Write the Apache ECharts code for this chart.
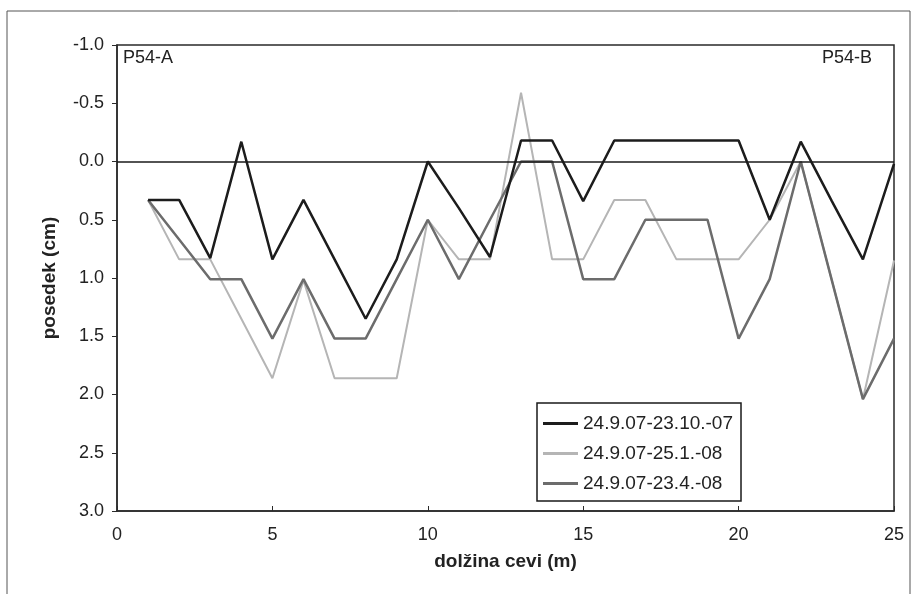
<!DOCTYPE html>
<html lang="sl">
<head>
    <meta charset="utf-8">
    <title>posedek</title>
    <script src="https://cdn.jsdelivr.net/npm/echarts@6/dist/echarts.min.js"></script>
    <style type="text/css">
        body {
            margin: 0;
            background: #ffffff;
        }

        #main {
            width: 916px;
            height: 594px;
        }
    </style>
</head>
<body>
<div id="main"></div>
<script type="text/javascript">
    // dolžina cevi (m)
    let xValues = [1, 2, 3, 4, 5, 6, 7, 8, 9, 10, 11, 12, 13, 14, 15, 16, 17, 18, 19, 20, 21, 22, 23, 24, 25];

    // posedek (cm), po meritvah
    let oct07 = [0.33, 0.33, 0.83, -0.17, 0.84, 0.33, 0.84, 1.35, 0.84, 0.0, 0.4, 0.82, -0.18, -0.18, 0.34, -0.18, -0.18, -0.18, -0.18, -0.18, 0.5, -0.17, 0.34, 0.84, 0.02];
    let jan08 = [0.33, 0.84, 0.84, 1.35, 1.86, 1.02, 1.86, 1.86, 1.86, 0.5, 0.84, 0.84, -0.59, 0.84, 0.84, 0.33, 0.33, 0.84, 0.84, 0.84, 0.5, 0.0, 1.02, 2.04, 0.85];
    let apr08 = [0.33, 0.67, 1.01, 1.01, 1.52, 1.01, 1.52, 1.52, 1.01, 0.5, 1.01, 0.5, 0.0, 0.0, 1.01, 1.01, 0.5, 0.5, 0.5, 1.52, 1.01, 0.0, 1.02, 2.04, 1.52];

    let seriesNames = ["24.9.07-23.10.-07", "24.9.07-25.1.-08", "24.9.07-23.4.-08"];
    let seriesColors = ["#1c1c1c", "#b5b5b5", "#6c6c6c"];

    function pairs(values) {
        let out = [];
        for (let i = 0; i < values.length; i++) {
            out.push([xValues[i], values[i]]);
        }
        return out;
    }

    let font = "'Liberation Sans', Arial, sans-serif";
    let myChart = echarts.init(document.getElementById("main"));

    myChart.setOption({
        animation: false,
        textStyle: {fontFamily: font},
        grid: {
            left: 117,
            top: 45,
            right: 22,
            bottom: 83,
            show: true,
            borderColor: "#2a2a2a",
            borderWidth: 1.5
        },
        legend: {
            data: seriesNames,
            orient: "vertical",
            left: 537,
            top: 403,
            icon: "rect",
            borderColor: "#1a1a1a",
            borderWidth: 1.5,
            padding: [11, 8, 8, 6],
            itemWidth: 35,
            itemHeight: 3,
            itemGap: 11,
            textStyle: {fontSize: 19, color: "#222222", fontFamily: font}
        },
        xAxis: {
            type: "value",
            min: 0,
            max: 25,
            interval: 5,
            name: "dolžina cevi (m)",
            nameLocation: "middle",
            nameGap: 41,
            nameTextStyle: {fontSize: 19, fontWeight: "bold", color: "#222222"},
            axisLine: {onZero: false, lineStyle: {color: "#2a2a2a", width: 1.5}},
            axisTick: {inside: true, length: 5, lineStyle: {color: "#2a2a2a"}},
            axisLabel: {fontSize: 18, color: "#222222", margin: 15},
            splitLine: {show: false}
        },
        yAxis: {
            type: "value",
            inverse: true,
            min: -1,
            max: 3,
            interval: 0.5,
            name: "posedek (cm)",
            nameLocation: "middle",
            nameGap: 58,
            nameTextStyle: {fontSize: 19, fontWeight: "bold", color: "#222222"},
            axisLine: {show: true, onZero: false, lineStyle: {color: "#2a2a2a", width: 1.5}},
            axisTick: {show: true, length: 5, lineStyle: {color: "#2a2a2a"}},
            axisLabel: {
                fontSize: 18,
                color: "#222222",
                margin: 13,
                formatter: function (v) {
                    return v.toFixed(1);
                }
            },
            splitLine: {show: false}
        },
        graphic: [
            {
                type: "rect",
                shape: {x: 7, y: 11, width: 903, height: 600},
                style: {fill: "none", stroke: "#555555", lineWidth: 1},
                silent: true
            },
            {
                type: "text",
                left: 123,
                top: 49,
                style: {text: "P54-A", fontSize: 18, fill: "#222222", fontFamily: font}
            },
            {
                type: "text",
                right: 44,
                top: 49,
                style: {text: "P54-B", fontSize: 18, fill: "#222222", fontFamily: font}
            }
        ],
        series: [
            {
                name: seriesNames[1],
                type: "line",
                data: pairs(jan08),
                symbol: "none",
                color: seriesColors[1],
                lineStyle: {width: 2, color: seriesColors[1]}
            },
            {
                name: seriesNames[2],
                type: "line",
                data: pairs(apr08),
                symbol: "none",
                color: seriesColors[2],
                lineStyle: {width: 2.5, color: seriesColors[2]}
            },
            {
                name: seriesNames[0],
                type: "line",
                data: pairs(oct07),
                symbol: "none",
                color: seriesColors[0],
                lineStyle: {width: 2.5, color: seriesColors[0]},
                markLine: {
                    silent: true,
                    symbol: "none",
                    label: {show: false},
                    lineStyle: {color: "#1a1a1a", width: 1.5, type: "solid"},
                    data: [{yAxis: 0}]
                }
            }
        ]
    });
</script>
</body>
</html>
